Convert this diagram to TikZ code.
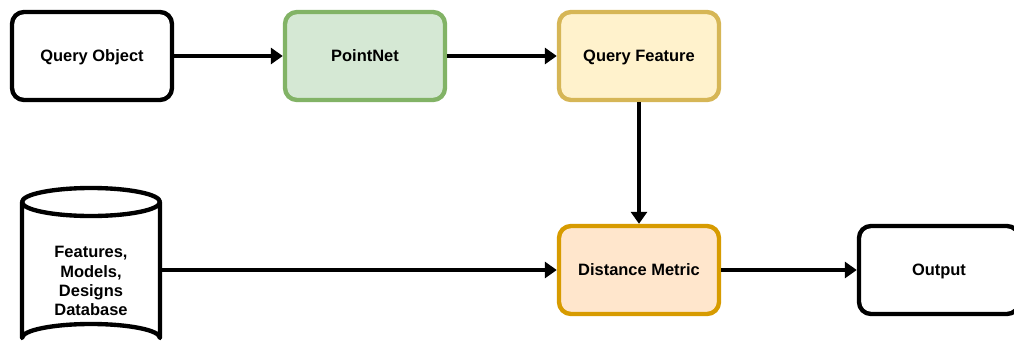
\documentclass[tikz,border=0pt]{standalone}
\usepackage{fontspec}
\setmainfont{Liberation Sans}
\usetikzlibrary{arrows.meta}

\definecolor{netfill}{HTML}{D5E8D4}
\definecolor{netline}{HTML}{82B366}
\definecolor{featfill}{HTML}{FFF2CC}
\definecolor{featline}{HTML}{D6B656}
\definecolor{distfill}{HTML}{FFE6CC}
\definecolor{distline}{HTML}{D79B00}

\begin{document}
\begin{tikzpicture}[x=0.025cm,y=-0.025cm,line join=round,
    font=\fontsize{11.7}{13.6}\selectfont\bfseries,
    blockbox/.style={draw,line width=3.1pt,rounded corners=0.3cm,fill=white,
      minimum width=4.0cm,minimum height=2.2cm,text depth=0pt},
    flow/.style={line width=2.8pt,-{Triangle[length=0.3cm,width=0.4cm]}}]
    \useasboundingbox (0,0) rectangle (1014,349);
    % top row
    \node[blockbox] (query) at (92,56) {Query Object};
    \node[blockbox,draw=netline,fill=netfill] (pointnet) at (365,56) {PointNet};
    \node[blockbox,draw=featline,fill=featfill] (feature) at (639,56) {Query Feature};
    % bottom row
    \node[blockbox,draw=distline,fill=distfill] (metric) at (639,270) {Distance Metric};
    \node[blockbox] (output) at (939,270) {Output};
    % database cylinder
    \draw[line width=3.1pt,fill=white] (22,202) -- (22,338)
        arc[start angle=180,end angle=360,x radius=69,y radius=14]
        -- (160,202) arc[start angle=0,end angle=180,x radius=69,y radius=14] -- cycle;
    \draw[line width=3.1pt] (22,202) arc[start angle=180,end angle=360,x radius=69,y radius=14];
    \node[align=center,inner sep=0pt,minimum width=3.45cm] (db) at (91,281)
        {Features,\\Models,\\Designs\\Database};
    % connectors
    \draw[flow] (query) -- (pointnet);
    \draw[flow] (pointnet) -- (feature);
    \draw[flow] (feature) -- (metric);
    \draw[flow] (db.east |- metric) -- (metric);
    \draw[flow] (metric) -- (output);
\end{tikzpicture}
\end{document}
